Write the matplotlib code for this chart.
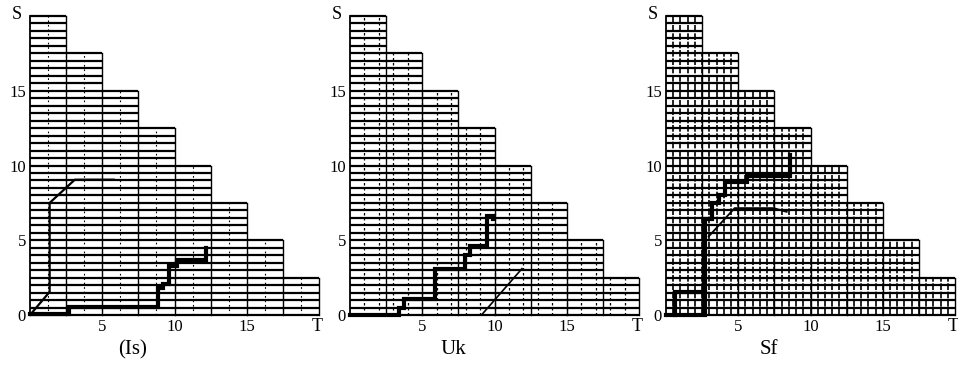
import numpy as np
import matplotlib
matplotlib.use('Agg')
import matplotlib.pyplot as plt

plt.rcParams['font.family'] = ['Liberation Serif', 'DejaVu Serif']

# lattice: columns of width 2.5 in T, heights in S
col_edges = [0, 2.5, 5, 7.5, 10, 12.5, 15, 17.5, 20]
col_heights = [20, 17.5, 15, 12.5, 10, 7.5, 5, 2.5]
row_step = 0.5

panel_titles = ['(Is)', 'Uk', 'Sf']
tick_vals = [5, 10, 15]

# thick staircase paths (T, S)
is_thick_t = [0, 2.7, 2.7, 8.85, 8.85, 9.2, 9.2, 9.65, 9.65, 10.2, 10.2, 12.15, 12.15]
is_thick_s = [0.1, 0.1, 0.55, 0.55, 1.8, 1.8, 2.1, 2.1, 3.25, 3.25, 3.7, 3.7, 4.45]
is_thin_t = [0, 1.36, 1.36, 3.1, 5.8]
is_thin_s = [0, 1.55, 7.5, 9.05, 9.05]

uk_thick_t = [0, 3.4, 3.4, 3.75, 3.75, 5.9, 5.9, 7.95, 7.95, 8.3, 8.3, 9.45, 9.45, 9.9, 9.9]
uk_thick_s = [0, 0, 0.45, 0.45, 1.05, 1.05, 3.1, 3.1, 4.0, 4.0, 4.6, 4.6, 6.6, 6.6, 6.4]
uk_thin_t = [9.1, 11.9]
uk_thin_s = [0, 3.1]

sf_thick_t = [0, 2.7, 2.7, 3.2, 3.2, 3.7, 3.7, 4.1, 4.1, 5.6, 5.6, 8.6, 8.6]
sf_thick_s = [0, 0, 6.4, 6.4, 7.5, 7.5, 8.0, 8.0, 8.9, 8.9, 9.3, 9.3, 10.7]
sf_box_t = [0.6, 0.6, 2.7]
sf_box_s = [0, 1.55, 1.55]
sf_thin_t = [2.95, 4.75, 7.45, 8.35]
sf_thin_s = [5.25, 7.15, 7.15, 6.9]

# vertical grid spacing and style per panel
vgrid = [(1.25, (0, (1.5, 2.5)), 0.8), (1.0, (0, (2, 2)), 0.9), (0.5, (0, (4, 1)), 1.2)]


def draw_lattice(ax, vstep, vstyle, vlw):
    heights = np.array(col_heights)
    # horizontal rows
    for s in np.arange(0, col_heights[0] + 0.01, row_step):
        t_end = col_edges[int((heights >= s - 1e-9).sum())]
        ax.plot([0, t_end], [s, s], color='black', lw=1.6, solid_capstyle='butt', clip_on=False)
    # vertical inner lines
    for t in np.arange(vstep, col_edges[-1], vstep):
        k = int(t // 2.5)
        top = col_heights[min(k, len(col_heights) - 1)]
        ax.plot([t, t], [0, top], color='black', lw=vlw, ls=vstyle, clip_on=False)
    # outline of the staircase
    ax.plot([0, 0], [0, col_heights[0]], color='black', lw=1.3, clip_on=False)
    for i in range(1, len(col_edges)):
        ax.plot([col_edges[i], col_edges[i]], [0, col_heights[i - 1]], color='black', lw=1.0, clip_on=False)


fig = plt.figure(figsize=(9.58, 3.74), dpi=100)
lefts = [30 / 958, 350 / 958, 666 / 958]
axes = []
for i, left in enumerate(lefts):
    ax = fig.add_axes([left, 59 / 374, 289 / 958, 299 / 374])
    ax.set_xlim(0, 20)
    ax.set_ylim(0, 20)
    for sp in ax.spines.values():
        sp.set_visible(False)
    draw_lattice(ax, *vgrid[i])
    ax.set_xticks(tick_vals)
    ax.set_xticklabels([str(v) for v in tick_vals], fontsize=12)
    ax.set_yticks([0] + tick_vals)
    ax.set_yticklabels(['0'] + [str(v) for v in tick_vals], fontsize=12)
    ax.tick_params(length=0, pad=3)
    ax.text(-0.9, 20.1, 'S', fontsize=13, ha='center', va='center')
    ax.text(19.9, -0.75, 'T', fontsize=13, ha='center', va='center')
    fig.text((left * 958 + 103) / 958, 1 - 350 / 374, panel_titles[i], fontsize=15,
             ha='center', va='center')
    axes.append(ax)

axes[0].plot(is_thick_t, is_thick_s, color='black', lw=3, solid_joinstyle='miter', clip_on=False)
axes[0].plot(is_thin_t, is_thin_s, color='black', lw=1.6, clip_on=False)

axes[1].plot(uk_thick_t, uk_thick_s, color='black', lw=3, solid_joinstyle='miter', clip_on=False)
axes[1].plot(uk_thin_t, uk_thin_s, color='black', lw=1.2, clip_on=False)

axes[2].plot(sf_thick_t, sf_thick_s, color='black', lw=3, solid_joinstyle='miter', clip_on=False)
axes[2].plot(sf_box_t, sf_box_s, color='black', lw=3, solid_joinstyle='miter', clip_on=False)
axes[2].plot(sf_thin_t, sf_thin_s, color='black', lw=1.3, clip_on=False)

fig.savefig('out.png', dpi=100, facecolor='white')
